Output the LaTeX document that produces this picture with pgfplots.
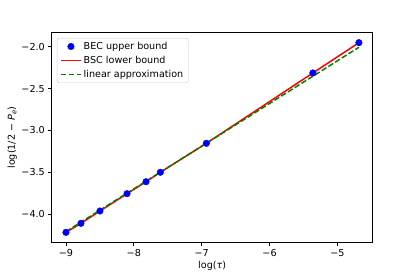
\documentclass[border=0pt]{standalone}
\usepackage{pgfplots}
\pgfplotsset{compat=1.18}
\usepackage{fontspec}
\setmainfont{DejaVu Sans}
\definecolor{mplgreen}{rgb}{0,0.5,0}
\begin{document}
\fontsize{9.6}{11.5}\selectfont
\begin{tikzpicture}
\path[use as bounding box] (-51.7pt,-34.7pt) rectangle (363.3pt,242.3pt);
\begin{axis}[
  at={(0pt,0pt)}, anchor=south west,
  scale only axis, width=321pt, height=209.6pt,
  xmin=-9.21, xmax=-4.48, ymin=-4.338, ymax=-1.833,
  axis line style={line width=0.8pt},
  tick align=outside, tick style={line width=0.8pt, black}, major tick length=3.5pt,
  xtick pos=left, ytick pos=left,
  xtick={-9,-8,-7,-6,-5}, xticklabels={−9,−8,−7,−6,−5},
  ytick={-4,-3.5,-3,-2.5,-2}, yticklabels={−4.0,−3.5,−3.0,−2.5,−2.0},
  ticklabel style={font=\fontsize{9.6}{11.5}\selectfont},
  xlabel={log(\textit{τ})}, ylabel={log(1/2 − \textit{P}\textsubscript{\textit{e}})},
  label style={font=\fontsize{9.6}{11.5}\selectfont},
  xlabel style={yshift=2pt}, ylabel style={yshift=-2pt},
  legend cell align=left,
  legend image code/.code={\draw[mark repeat=2,mark phase=2,#1] plot coordinates {(0pt,0pt) (10pt,0pt) (20pt,0pt)};},
  legend style={at={(0.0165,0.975)}, anchor=north west, draw=black!20, rounded corners=2pt,
    font=\fontsize{9.6}{11.5}\selectfont, row sep=1.2pt, inner xsep=3pt, inner ysep=2pt},
]
\addplot[only marks, mark=*, mark size=3.3pt, blue, mark options={draw=blue, fill=blue}]
coordinates {(-9.0,-4.219) (-8.779,-4.111) (-8.499,-3.964) (-8.100,-3.757) (-7.820,-3.614) (-7.609,-3.501) (-6.931,-3.155) (-5.361,-2.314) (-4.683,-1.952)};
\addlegendentry{BEC upper bound}
\addplot[red, line width=1.5pt, no marks]
coordinates {(-9.0,-4.219) (-8.779,-4.111) (-8.499,-3.964) (-8.100,-3.757) (-7.820,-3.614) (-7.609,-3.501) (-6.931,-3.155) (-5.361,-2.314) (-4.683,-1.952)};
\addlegendentry{BSC lower bound}
\addplot[mplgreen, line width=1.5pt, dash pattern=on 5.55pt off 2.4pt, no marks]
coordinates {(-9.0,-4.21) (-4.683,-2.007)};
\addlegendentry{linear approximation}
\end{axis}
\end{tikzpicture}
\end{document}
